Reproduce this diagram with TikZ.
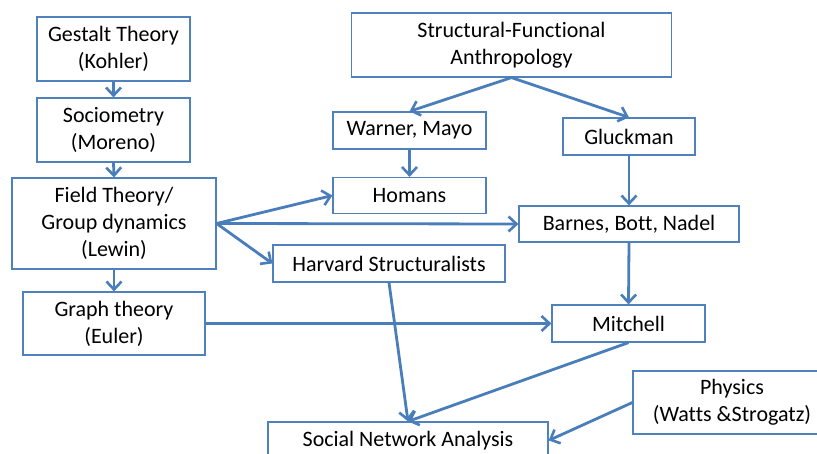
\documentclass[tikz,border=0pt]{standalone}
\usepackage{fontspec}
\setmainfont{Carlito}[Ligatures=NoCommon]
\usetikzlibrary{arrows.meta}
\definecolor{boxblue}{RGB}{79,129,189}
\definecolor{linkblue}{RGB}{74,126,187}
\begin{document}
\begin{tikzpicture}[x=1pt,y=-1pt,
  box/.style={draw=boxblue, line width=1.2pt, fill=white, inner sep=0pt,
    align=center, font=\fontsize{22}{27}\selectfont},
  link/.style={draw=linkblue, line width=2.8pt,
    -{Straight Barb[length=8pt,width=15pt,line width=2.6pt]}}]
\useasboundingbox (0,0) rectangle (817,454);

% left column
\node[box, minimum width=153pt, minimum height=64pt] (gestalt) at (113.5,49) {Gestalt Theory\\(Kohler)};
\node[box, minimum width=153pt, minimum height=64pt] (socio) at (113.5,130) {Sociometry\\(Moreno)};
\node[box, minimum width=204pt, minimum height=91pt] (field) at (114,223.5) {Field Theory/\\Group dynamics\\(Lewin)};
\node[box, minimum width=182pt, minimum height=63pt] (graph) at (114,323.5) {Graph theory\\(Euler)};

% anthropology branch
\node[box, minimum width=320pt, minimum height=64pt] (sfa) at (511.5,45) {Structural-Functional\\Anthropology};
\node[box, minimum width=153pt, minimum height=37pt] (warner) at (409.5,130.5) {Warner, Mayo};
\node[box, minimum width=153pt, minimum height=36pt] (homans) at (409.5,195.5) {Homans};
\node[box, minimum width=132pt, minimum height=37pt] (gluck) at (629,136.5) {Gluckman};
\node[box, minimum width=220pt, minimum height=36pt] (barnes) at (629,224) {Barnes, Bott, Nadel};
\node[box, minimum width=232pt, minimum height=37pt] (harvard) at (389,263.5) {Harvard Structuralists};
\node[box, minimum width=153pt, minimum height=37pt] (mitchell) at (628.5,323.5) {Mitchell};

% sinks
\node[box, minimum width=198pt, minimum height=63pt] (physics) at (732,402.5) {Physics\\(Watts \&Strogatz)};
\node[box, minimum width=280pt, minimum height=37pt] (sna) at (408,440.5) {Social Network Analysis};

% connectors
\draw[link] (gestalt.south) -- (socio.north);
\draw[link] (socio.south) -- (field.north);
\draw[link] (field.south) -- (graph.north);
\draw[link] (field.east) -- (homans.west);
\draw[link] (field.east) -- (barnes.west);
\draw[link] (field.east) -- (harvard.west);
\draw[link] (sfa.south) -- (warner.north);
\draw[link] (sfa.south) -- (gluck.north);
\draw[link] (warner.south) -- (homans.north);
\draw[link] (gluck.south) -- (barnes.north);
\draw[link] (barnes.south) -- (mitchell.north);
\draw[link] (graph.east) -- (mitchell.west);
\draw[link] (harvard.south) -- (sna.north);
\draw[link] (mitchell.south) -- (sna.north);
\draw[link] (physics.west) -- (sna.east);
\end{tikzpicture}
\end{document}
